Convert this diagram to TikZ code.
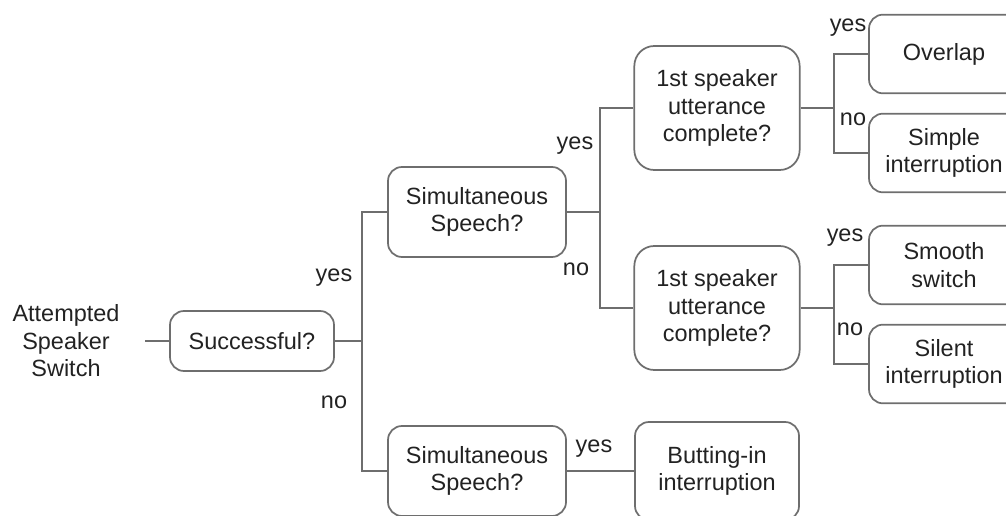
\documentclass[tikz,border=0pt]{standalone}
\usepackage{fontspec}
\setmainfont{Liberation Sans}
\usetikzlibrary{positioning}
\definecolor{edgegray}{RGB}{110,110,110}
\definecolor{inkgray}{RGB}{34,34,34}
\tikzstyle{box} = [draw=edgegray, line width=1.3pt, rounded corners=10.5pt, align=center, text=inkgray, inner sep=0pt]
\tikzstyle{question} = [box, minimum width=133.5pt, minimum height=67.5pt]
\tikzstyle{check} = [box, rounded corners=15pt, minimum width=124pt, minimum height=93pt]
\tikzstyle{outcome} = [box, minimum width=112.5pt, minimum height=59pt]
\tikzstyle{answer} = [text=inkgray, inner sep=0pt, anchor=base]
\tikzstyle{branch} = [draw=edgegray, line width=1.3pt]

\begin{document}
\begin{tikzpicture}[x=0.75pt,y=-0.75pt,font=\fontsize{17.6}{20.6}\selectfont]
	\useasboundingbox (0,0) rectangle (1006,516);
	\node[align=center, text=inkgray, inner xsep=19pt, inner ysep=0pt] (start) at (66,341) {Attempted\\Speaker\\Switch};
	\node[box, minimum width=123pt, minimum height=45pt] (succ) at (252,341) {Successful?};
	\node[question] (simA) at (477,212) {Simultaneous\\Speech?};
	\node[question] (simB) at (477,471) {Simultaneous\\Speech?};
	\node[check] (spkA) at (717,108) {1st speaker\\utterance\\complete?};
	\node[check] (spkB) at (717,308) {1st speaker\\utterance\\complete?};
	\node[outcome] (overlap) at (944,54) {Overlap};
	\node[outcome] (simple) at (944,153) {Simple\\interruption};
	\node[outcome] (smooth) at (944,265) {Smooth\\switch};
	\node[outcome] (silent) at (944,364) {Silent\\interruption};
	\node[box, minimum width=123pt, minimum height=73.5pt] (butting) at (717,471) {Butting-in\\interruption};
	\coordinate (j1) at (362,341);
	\coordinate (j2) at (600,212);
	\coordinate (j3) at (834,108);
	\coordinate (j4) at (834,308);
	\draw[branch] (start.east) -- (succ);
	\draw[branch] (succ) -- (j1) |- (simA);
	\draw[branch] (j1) |- (simB);
	\draw[branch] (simA) -- (j2) |- (spkA);
	\draw[branch] (j2) |- (spkB);
	\draw[branch] (spkA) -- (j3) |- (overlap);
	\draw[branch] (j3) |- (simple);
	\draw[branch] (spkB) -- (j4) |- (smooth);
	\draw[branch] (j4) |- (silent);
	\draw[branch] (simB) -- (butting);
	\node[answer] (yes1) at (334,282) {yes};
	\node[answer] (no1) at (334,408) {no};
	\node[answer] (yes2) at (575,150) {yes};
	\node[answer] (no2) at (576,276) {no};
	\node[answer] (yes3) at (848,32) {yes};
	\node[answer] (no3) at (853,126) {no};
	\node[answer] (yes4) at (845,242) {yes};
	\node[answer] (no4) at (850,336) {no};
	\node[answer] (yes5) at (594,452) {yes};
\end{tikzpicture}
\end{document}
